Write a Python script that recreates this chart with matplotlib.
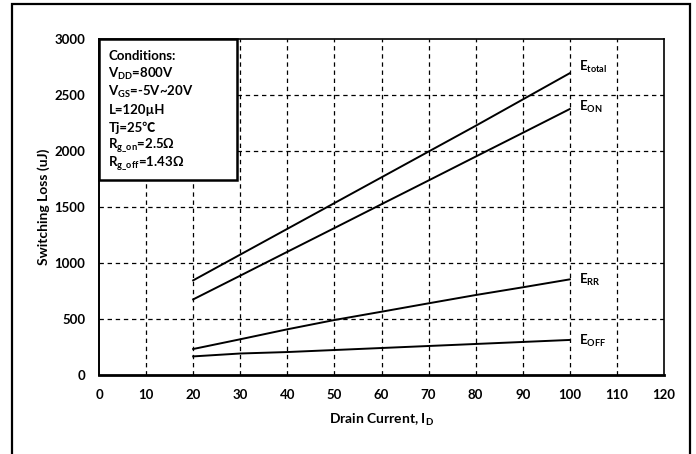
import matplotlib
matplotlib.use("Agg")
import matplotlib.pyplot as plt
from matplotlib.patches import Rectangle

plt.rcParams['font.family'] = ['Lato', 'Noto Sans CJK SC', 'DejaVu Sans']
plt.rcParams['mathtext.fontset'] = 'custom'
plt.rcParams['mathtext.rm'] = 'Lato'
plt.rcParams['mathtext.bf'] = 'Lato:bold'
plt.rcParams['mathtext.it'] = 'Lato:italic'

current = [20, 30, 40, 50, 60, 70, 80, 90, 100]
e_total = [845, 1075, 1305, 1535, 1765, 1995, 2225, 2460, 2695]
e_on = [675, 887, 1100, 1312, 1525, 1737, 1950, 2162, 2375]
e_rr = [232, 319, 408, 491, 565, 640, 714, 783, 854]
e_off = [166, 192, 205, 223, 241, 259, 277, 295, 313]

series_labels = [r'E$_{\mathbf{total}}$', r'E$_{\mathbf{ON}}$', r'E$_{\mathbf{RR}}$', r'E$_{\mathbf{OFF}}$']
label_y = [2750, 2395, 850, 300]

x_ticks = list(range(0, 121, 10))
y_ticks = list(range(0, 3001, 500))

conditions = [
    'Conditions:',
    r'V$_{\mathbf{DD}}$=800V',
    r'V$_{\mathbf{GS}}$=-5V~20V',
    'L=120µH',
    'Tj=25℃',
    r'R$_{\mathbf{g\_on}}$=2.5Ω',
    r'R$_{\mathbf{g\_off}}$=1.43Ω',
]

fig = plt.figure(figsize=(6.96, 4.54), dpi=100)
# outer frame
fig.patches.append(Rectangle((12/696, -0.02), (690-12)/696, 1.02 - 4/454,
                             transform=fig.transFigure, fill=False,
                             edgecolor='black', linewidth=1.6))

ax = fig.add_axes([99/696, 1-375/454, (664-99)/696, (375-39)/454])
ax.set_xlim(0, 120)
ax.set_ylim(0, 3000)
ax.set_xticks(x_ticks)
ax.set_yticks(y_ticks)
ax.tick_params(length=0, labelsize=9.5, pad=10)
for lab in ax.get_xticklabels() + ax.get_yticklabels():
    lab.set_fontweight('bold')

for v in x_ticks[1:-1]:
    ax.axvline(v, color='black', lw=0.9, ls=(0, (3.5, 3)), zorder=1)
for v in y_ticks[1:-1]:
    ax.axhline(v, color='black', lw=0.9, ls=(0, (3.5, 3)), zorder=1)

for s in ax.spines.values():
    s.set_color('black')
    s.set_linewidth(1.2)
ax.spines['bottom'].set_linewidth(2.0)
ax.spines['left'].set_linewidth(1.4)

for ys, lab, ly in zip([e_total, e_on, e_rr, e_off], series_labels, label_y):
    ax.plot(current, ys, color='black', lw=1.4, zorder=3)
    ax.text(102, ly, lab, fontsize=9.5, fontweight='bold', ha='left', va='center', zorder=4)

# conditions box
ax.add_patch(Rectangle((0, 1741), 29.3, 3000 - 1741, facecolor='white',
                       edgecolor='black', lw=1.8, zorder=5, clip_on=False))
for i, t in enumerate(conditions):
    ax.text(2.0, 2845 - i * 160, t, fontsize=9.5, fontweight='bold',
            ha='left', va='center', zorder=6)

ax.set_ylabel('Switching Loss (uJ)', fontsize=10, fontweight='bold', labelpad=3)
ax.set_xlabel(r'Drain Current, I$_{\mathbf{D}}$', fontsize=10, fontweight='bold', labelpad=8)

fig.savefig('out.png', dpi=100)
